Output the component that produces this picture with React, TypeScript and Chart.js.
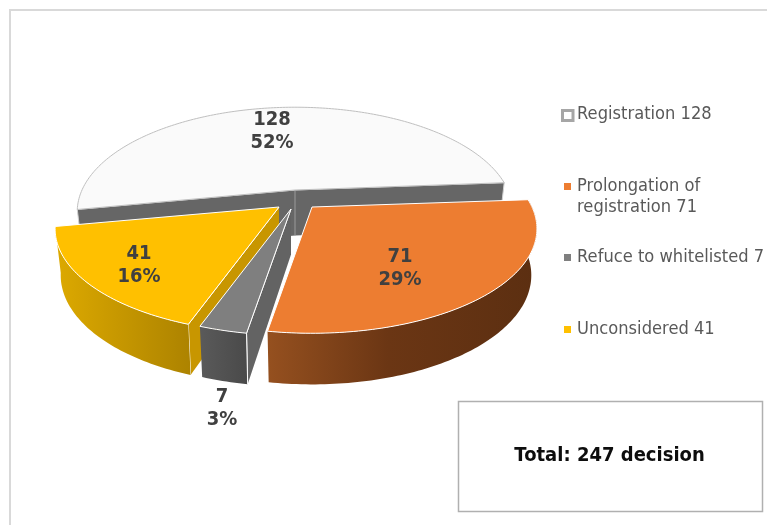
import React, { useEffect, useRef } from "react";
import { Chart, registerables } from "chart.js";

Chart.register(...registerables);

const categories = ["Registration", "Prolongation of registration", "Refuce to whitelisted", "Unconsidered"];
const values = [128, 71, 7, 41];
const percentLabels = ["52%", "29%", "3%", "16%"];
const legendLines = [["Registration 128"], ["Prolongation of", "registration 71"], ["Refuce to whitelisted 7"], ["Unconsidered 41"]];
const sliceColors = ["#fafafa", "#ed7d31", "#7f7f7f", "#ffc000"];
const totalText = "Total: 247 decision";

const FONT = '"DejaVu Sans"';
const K = 0.208;
const B = 100;
const DEPTH = 45.5;
const BOTTOM_X = 0.975;
// per-slice apex (explosion) and half width
const apexes = [
  { x: 295, y: 190, a: 213 },
  { x: 312, y: 207, a: 220 },
  { x: 291, y: 209, a: 220 },
  { x: 279, y: 207, a: 219 },
];
const labelSpots = [
  { x: 272, y: 120 },
  { x: 400, y: 257 },
  { x: 222, y: 397 },
  { x: 139, y: 254 },
];
const legendSpots = [115, 187, 258, 330];

type P = [number, number];
type C = { x: number; y: number; a: number };

const top3 = (c: C, th: number, r = 1): P => {
  const u = r * Math.cos(th);
  const v = r * Math.sin(th);
  const w = 1 - K * v;
  return [c.x + (c.a * u) / w, c.y + (B * v) / w];
};
const bot3 = (c: C, th: number, r = 1): P => {
  const p = top3(c, th, r);
  const w = 1 - K * r * Math.sin(th);
  return [c.x + (p[0] - c.x) * BOTTOM_X, p[1] + DEPTH / Math.sqrt(w)];
};
const arcPts = (f: (c: C, t: number) => P, c: C, s: number, e: number) => {
  const n = Math.max(2, Math.ceil((e - s) / (Math.PI / 180)));
  const out: P[] = [];
  for (let i = 0; i <= n; i++) out.push(f(c, s + ((e - s) * i) / n));
  return out;
};
const poly = (ctx: CanvasRenderingContext2D, pts: P[], close = true) => {
  ctx.beginPath();
  pts.forEach((p, i) => (i ? ctx.lineTo(p[0], p[1]) : ctx.moveTo(p[0], p[1])));
  if (close) ctx.closePath();
};
const hGrad = (ctx: CanvasRenderingContext2D, x0: number, x1: number, stops: [number, string][]) => {
  const g = ctx.createLinearGradient(x0, 0, x1, 0);
  stops.forEach(([o, col]) => g.addColorStop(o, col));
  return g;
};
const tallText = (ctx: CanvasRenderingContext2D, t: string, x: number, y: number, sx: number, sy: number) => {
  ctx.save();
  ctx.translate(x, y);
  ctx.scale(sx, sy);
  ctx.fillText(t, 0, 0);
  ctx.restore();
};

const pie3d = {
  id: "pie3d",
  beforeDatasetsDraw(chart: any) {
    const ctx: CanvasRenderingContext2D = chart.ctx;
    const arcs = chart.getDatasetMeta(0).data;
    const ang = (i: number) => [arcs[i].startAngle, arcs[i].endAngle];
    ctx.save();
    ctx.lineJoin = "round";

    const face = (c: C, th: number, fill: string | CanvasGradient, line = "#ffffff") => {
      const pts: P[] = [top3(c, 0, 0), top3(c, th), bot3(c, th), bot3(c, 0, 0)];
      poly(ctx, pts);
      ctx.fillStyle = fill;
      ctx.fill();
      ctx.strokeStyle = line;
      ctx.lineWidth = 1;
      poly(ctx, pts.slice(0, 3), false);
      ctx.stroke();
    };
    const rim = (c: C, s: number, e: number, fill: string | CanvasGradient) => {
      const pts = [...arcPts(top3, c, s, e), ...arcPts(bot3, c, s, e).reverse()];
      poly(ctx, pts);
      ctx.fillStyle = fill;
      ctx.fill();
    };
    const topFace = (i: number, line: string) => {
      const [s, e] = ang(i);
      const c = apexes[i];
      const pts = [top3(c, 0, 0), ...arcPts(top3, c, s, e)];
      poly(ctx, pts);
      ctx.fillStyle = arcs[i].options.backgroundColor;
      ctx.fill();
      ctx.strokeStyle = line;
      ctx.lineWidth = 1;
      ctx.stroke();
    };

    // white slice: back, inner walls are the grey band
    {
      const [s, e] = ang(0);
      const c = apexes[0];
      face(c, s, "#666666", "#d0d0d0");
      face(c, e, "#666666", "#d0d0d0");
      ctx.strokeStyle = "#9a9a9a";
      ctx.lineWidth = 1;
      poly(ctx, [top3(c, 0, 0), bot3(c, 0, 0)], false);
      ctx.stroke();
      topFace(0, "#bfbfbf");
    }
    // yellow
    {
      const [s, e] = ang(3);
      const c = apexes[3];
      face(c, s, "#c89600");
      rim(c, s, e, hGrad(ctx, 60, 190, [[0, "#dba800"], [1, "#ad8300"]]));
      topFace(3, "#ffffff");
    }
    // grey
    {
      const [s, e] = ang(2);
      const c = apexes[2];
      face(c, s, "#636363");
      rim(c, s, e, hGrad(ctx, 200, 246, [[0, "#5a5a5a"], [1, "#4a4a4a"]]));
      topFace(2, "#ffffff");
      const corner = [top3(c, s), bot3(c, s)] as P[];
      ctx.strokeStyle = "#ffffff";
      poly(ctx, corner, false);
      ctx.stroke();
    }
    // orange
    {
      const [s, e] = ang(1);
      const c = apexes[1];
      rim(c, s, e, hGrad(ctx, 268, 535, [[0, "#95501f"], [0.45, "#6b3614"], [1, "#5c2f11"]]));
      topFace(1, "#ffffff");
    }
    ctx.restore();
    return false;
  },
  afterDraw(chart: any) {
    const ctx: CanvasRenderingContext2D = chart.ctx;
    ctx.save();
    // frame
    ctx.strokeStyle = "#d9d9d9";
    ctx.lineWidth = 2;
    ctx.beginPath();
    ctx.moveTo(10, 525);
    ctx.lineTo(10, 10);
    ctx.lineTo(767, 10);
    ctx.stroke();

    // data labels
    ctx.textAlign = "center";
    ctx.textBaseline = "middle";
    ctx.fillStyle = "#404040";
    ctx.font = `bold 18px ${FONT}`;
    values.forEach((v, i) => {
      const s = labelSpots[i];
      tallText(ctx, String(v), s.x, s.y, 1, 1.08);
      tallText(ctx, percentLabels[i], s.x, s.y + 23, 1, 1.08);
    });

    // legend
    ctx.textAlign = "left";
    ctx.font = `16px ${FONT}`;
    legendLines.forEach((lines, i) => {
      const y = legendSpots[i];
      if (i === 0) {
        ctx.strokeStyle = "#a6a6a6";
        ctx.lineWidth = 3;
        ctx.fillStyle = "#ffffff";
        ctx.fillRect(562, 110, 11, 10);
        ctx.strokeRect(562.5, 110.5, 10.5, 10);
      } else {
        ctx.fillStyle = sliceColors[i];
        ctx.fillRect(564, y - 4, 7, 7);
      }
      ctx.fillStyle = "#595959";
      lines.forEach((t, j) => tallText(ctx, t, 577, y + j * 21, 1.02, 1.08));
    });

    // total box
    ctx.strokeStyle = "#b0b0b0";
    ctx.lineWidth = 1.5;
    ctx.strokeRect(458.5, 401.5, 304, 110);
    ctx.fillStyle = "#0d0d0d";
    ctx.textAlign = "center";
    ctx.font = `bold 18px ${FONT}`;
    tallText(ctx, totalText, 609.5, 456, 1, 1.06);
    ctx.restore();
  },
};

export default function App() {
  const ref = useRef<HTMLCanvasElement>(null);
  useEffect(() => {
    const chart = new Chart(ref.current!, {
      type: "pie",
      data: {
        labels: categories,
        datasets: [{ data: values, backgroundColor: sliceColors }],
      },
      options: {
        responsive: false,
        animation: false,
        rotation: 259.2,
        plugins: { legend: { display: false }, tooltip: { enabled: false } },
      },
      plugins: [pie3d],
    } as any);
    return () => chart.destroy();
  }, []);
  return (
    <div style={{ position: "fixed", left: 0, top: 0, width: 767, height: 525, background: "#fff" }}>
      <canvas ref={ref} width={767} height={525} style={{ display: "block" }} />
    </div>
  );
}
